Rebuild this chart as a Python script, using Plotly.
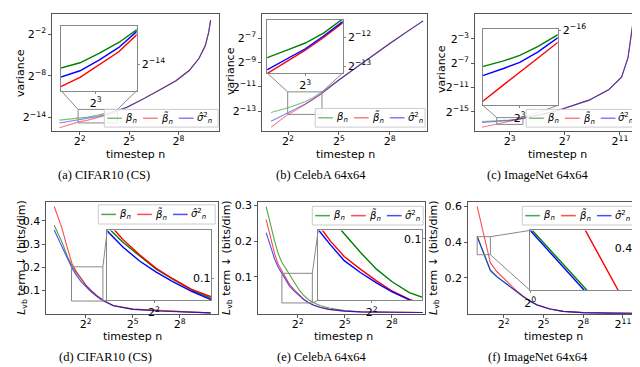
import math
import plotly.graph_objects as go

W, H = 640, 367
LOG2 = math.log10(2)

# ---------------- values ----------------
# top row: variance, stored as log2 exponents (variance = 2**e)
cifar_var_n = [1.7, 2.5, 3.7, 5.66, 8.6, 13.3, 19.7, 30, 60, 117, 232, 405, 610, 800, 920, 1000]
cifar_var_beta = [-14.4, -14.28, -14.12, -13.96, -13.68, -13.35, -12.97, -12.5, -11.3, -10.07, -8.72, -7.25, -5.52, -3.65, -1.76, 0.0]
cifar_var_beta_tilde = [-15.5, -15.1, -14.68, -14.4, -14.03, -13.63, -13.12, -12.52, -11.3, -10.07, -8.72, -7.25, -5.52, -3.65, -1.76, 0.0]
cifar_var_sigma = [-14.8, -14.6, -14.39, -14.2, -13.88, -13.5, -13.06, -12.51, -11.3, -10.07, -8.72, -7.25, -5.52, -3.65, -1.76, 0.0]

celeba_var_n = [2, 2.8, 4, 5.7, 8, 11.3, 16, 32, 64, 128, 256, 512, 1000]
celeba_var_beta = [-13.08, -12.9, -12.7, -12.45, -12.2, -11.85, -11.4, -10.42, -9.42, -8.42, -7.45, -6.5, -5.6]
celeba_var_beta_tilde = [-14.28, -13.75, -13.24, -12.85, -12.45, -12.0, -11.54, -10.43, -9.42, -8.42, -7.45, -6.5, -5.6]
celeba_var_sigma = [-13.8, -13.45, -13.11, -12.75, -12.4, -11.95, -11.5, -10.43, -9.42, -8.42, -7.45, -6.5, -5.6]

imagenet_var_n = [2, 4.2, 6, 8, 11, 15.7, 20, 84, 434, 1160, 2226, 3082, 3640, 4000]
imagenet_var_beta = [-16.62, -16.53, -16.45, -16.37, -16.24, -16.07, -15.95, -14.89, -13.1, -11.4, -9.3, -6.1, -2.2, 0.0]
imagenet_var_beta_tilde = [-17.58, -17.03, -16.8, -16.61, -16.41, -16.18, -16.0, -14.89, -13.1, -11.4, -9.3, -6.1, -2.2, 0.0]
imagenet_var_sigma = [-16.8, -16.66, -16.56, -16.47, -16.32, -16.12, -15.97, -14.89, -13.1, -11.4, -9.3, -6.1, -2.2, 0.0]

# bottom row: L_vb term (bits/dim)
cifar_lvb_n = [1, 1.4, 1.8, 2.2, 2.65, 3.3, 4.1, 5.1, 6.6, 8.6, 13.5, 32, 120, 430, 1000]
cifar_lvb_beta = [0.381, 0.31, 0.245, 0.205, 0.176, 0.147, 0.12, 0.099, 0.076, 0.058, 0.035, 0.019, 0.011, 0.006, 0.003]
cifar_lvb_beta_tilde = [0.462, 0.37, 0.28, 0.215, 0.182, 0.15, 0.122, 0.1, 0.077, 0.059, 0.035, 0.019, 0.011, 0.006, 0.003]
cifar_lvb_sigma = [0.361, 0.294, 0.237, 0.196, 0.166, 0.137, 0.114, 0.094, 0.073, 0.055, 0.034, 0.018, 0.01, 0.005, 0.003]

celeba_lvb_n = [1, 1.2, 1.45, 1.7, 2.0, 2.35, 2.8, 3.45, 4.25, 5.2, 6.5, 8.0, 11, 16, 32, 64, 256, 1000]
celeba_lvb_beta = [0.297, 0.245, 0.2, 0.165, 0.14, 0.125, 0.106, 0.084, 0.064, 0.049, 0.036, 0.028, 0.019, 0.013, 0.006, 0.0025, 0.0009, 0.0004]
celeba_lvb_beta_tilde = [0.26, 0.21, 0.165, 0.135, 0.117, 0.097, 0.079, 0.064, 0.05, 0.038, 0.028, 0.021, 0.014, 0.009, 0.004, 0.002, 0.0008, 0.0004]
celeba_lvb_sigma = [0.224, 0.185, 0.15, 0.127, 0.111, 0.0925, 0.0741, 0.06, 0.0477, 0.037, 0.0275, 0.021, 0.014, 0.009, 0.004, 0.002, 0.0008, 0.0004]

imagenet_lvb_n = [1, 2, 2.8, 4, 5.7, 8, 11, 16, 23, 45, 90, 256, 1000, 4000]
imagenet_lvb_beta = [0.434, 0.244, 0.208, 0.179, 0.146, 0.118, 0.093, 0.068, 0.048, 0.025, 0.012, 0.005, 0.002, 0.001]
imagenet_lvb_beta_tilde = [0.6, 0.283, 0.235, 0.198, 0.158, 0.125, 0.097, 0.07, 0.049, 0.025, 0.012, 0.005, 0.002, 0.001]
imagenet_lvb_sigma = [0.43, 0.238, 0.205, 0.177, 0.145, 0.118, 0.093, 0.068, 0.048, 0.025, 0.012, 0.005, 0.002, 0.001]

# zoom windows of the insets (x as log2 n, y as log2 or plain value)
cifar_var_zoom = [[1.9, 4.3], [-14.8, -12.85]]
celeba_var_zoom = [[1.98, 4.0], [-13.24, -11.4]]
imagenet_var_zoom = [[2.06, 3.97], [-17.1, -15.98]]
cifar_lvb_zoom = [[1.1, 3.1], [0.054, 0.2016]]
celeba_lvb_zoom = [[1.0, 2.94], [0.027, 0.11]]
imagenet_lvb_zoom = [[0.0, 1.0], [0.329, 0.43]]

labels = ['<i>β</i><sub><i>n</i></sub>', '<i>β\u0303</i><sub><i>n</i></sub>',
          '<i>σ\u0302</i><sup>2</sup><sub><i>n</i></sub>']
colors = [(0, 128, 0), (255, 0, 0), (0, 0, 255)]


def rgba(c, a):
    return 'rgba(%d,%d,%d,%s)' % (c[0], c[1], c[2], a)


def tick2(e):
    return '2<sup>' + str(e).replace('-', '\u2212') + '</sup>'


def P(x, y):
    return x / W, 1 - y / H


layout = dict(width=W, height=H, margin=dict(l=0, r=0, t=0, b=0), showlegend=False,
              paper_bgcolor='white', plot_bgcolor='rgba(0,0,0,0)',
              font=dict(family='DejaVu Sans', size=11, color='black'))
shapes, annotations, traces = [], [], []


def names(k):
    s = '' if k == 1 else str(k)
    return 'xaxis' + s, 'yaxis' + s, 'x' + s, 'y' + s


def add_axes(k, box, xr, yr, ylog, xt, yt, line, yside='left', ylabpos='outside', ticklen=3, standoff=0):
    xa_name, ya_name, xid, yid = names(k)
    x0, y0, x1, y1 = box
    common = dict(showgrid=False, zeroline=False, showline=True, mirror=True, linecolor=line,
                  linewidth=1, ticks='outside', ticklen=ticklen, tickcolor=line,
                  tickfont=dict(family='DejaVu Sans', size=11, color='black'))
    layout[xa_name] = dict(domain=[x0 / W, x1 / W], anchor=yid, type='log',
                           range=[xr[0] * LOG2, xr[1] * LOG2], ticklabelstandoff=standoff,
                           tickvals=[2 ** e for e in xt], ticktext=[tick2(e) for e in xt], **common)
    if ylog:
        yd = dict(type='log', range=[yr[0] * LOG2, yr[1] * LOG2],
                  tickvals=[2 ** e for e in yt], ticktext=[tick2(e) for e in yt])
    else:
        yd = dict(type='linear', range=list(yr), tickvals=yt, ticktext=['%g' % v for v in yt])
    layout[ya_name] = dict(domain=[1 - y1 / H, 1 - y0 / H], anchor=xid, side=yside,
                           ticklabelposition=ylabpos, **yd, **common)
    return xid, yid


def to_px(v, rng, p0, p1, log):
    t = v * LOG2 if log else v
    r0 = rng[0] * LOG2 if log else rng[0]
    r1 = rng[1] * LOG2 if log else rng[1]
    return p0 + (t - r0) / (r1 - r0) * (p1 - p0)


def line_shape(xa, ya, xb, yb, color='#888888', width=1):
    (u0, v0), (u1, v1) = P(xa, ya), P(xb, yb)
    shapes.append(dict(type='line', xref='paper', yref='paper', x0=u0, y0=v0, x1=u1, y1=v1,
                       line=dict(color=color, width=width), layer='above'))


def text(x, y, s, size=11, family='DejaVu Sans', angle=0, xanchor='center'):
    u, v = P(x, y)
    annotations.append(dict(xref='paper', yref='paper', x=u, y=v, text=s, showarrow=False,
                            textangle=angle, xanchor=xanchor, yanchor='middle',
                            font=dict(size=size, family=family, color='black')))


def legend(box, alpha):
    x0, y0, x1, y1 = box
    (u0, v0), (u1, v1) = P(x0, y1), P(x1, y0)
    shapes.append(dict(type='rect', xref='paper', yref='paper', x0=u0, y0=v0, x1=u1, y1=v1,
                       fillcolor='rgba(255,255,255,0.85)', line=dict(color='#cccccc', width=1),
                       layer='above'))
    yc = (y0 + y1) / 2
    for j in range(3):
        lx = x0 + 3 + j * 36.5
        line_shape(lx, yc, lx + 15, yc, rgba(colors[j], alpha), 1.5)
        text(lx + 16, yc, labels[j], size=10, xanchor='left')


panels = [
    dict(n=cifar_var_n, ys=[cifar_var_beta, cifar_var_beta_tilde, cifar_var_sigma], log=True,
         box=(39, 0.5, 209, 119), xr=(0.328, 10.48), yr=(-15.97, 0.82), xt=[2, 5, 8], yt=[-2, -8, -14],
         inset=(48, 12, 125, 78), zoom=cifar_var_zoom, ixt=[3], iyt=[-14],
         legend=(92, 97, 208, 115), alpha=0.5, ylabel='variance', ylxy=(6, 60), xlxy=(124, 143),
         caption='(a) CIFAR10 (CS)', cxy=(92, 164)),
    dict(n=celeba_var_n, ys=[celeba_var_beta, celeba_var_beta_tilde, celeba_var_sigma], log=True,
         box=(253, 0.5, 421, 119), xr=(0.48, 10.2), yr=(-14.6, -5.08), xt=[2, 5, 8], yt=[-7, -9, -11, -13],
         inset=(258, 6, 335, 60), zoom=celeba_var_zoom, ixt=[3], iyt=[-12, -13],
         legend=(307, 96, 419, 115), alpha=0.5, ylabel='variance', ylxy=(220, 58), xlxy=(338, 143),
         caption='(b) CelebA 64x64', cxy=(313, 164)),
    dict(n=imagenet_var_n, ys=[imagenet_var_beta, imagenet_var_beta_tilde, imagenet_var_sigma], log=True,
         box=(470, 0.5, 637, 119), xr=(0.505, 12.39), yr=(-18.2, 1.03), xt=[3, 7, 11], yt=[-3, -7, -11, -15],
         inset=(478, 15, 554, 93), zoom=imagenet_var_zoom, ixt=[3], iyt=[-16],
         legend=(522, 97, 635, 115), alpha=0.5, ylabel='variance', ylxy=(435, 56), xlxy=(554, 143),
         caption='(c) ImageNet 64x64', cxy=(533, 164)),
    dict(n=cifar_lvb_n, ys=[cifar_lvb_beta, cifar_lvb_beta_tilde, cifar_lvb_sigma], log=False,
         box=(33, 191, 208, 305), xr=(-0.5, 10.44), yr=(-0.002, 0.482), xt=[2, 5, 8], yt=[0.1, 0.2, 0.3, 0.4],
         inset=(95, 220, 201, 291), zoom=cifar_lvb_zoom, ixt=[2], iyt=[0.1],
         legend=(86, 194, 205, 213.5), alpha=0.7, ylxy=(8, 247), xlxy=(121, 328),
         caption='(d) CIFAR10 (CS)', cxy=(93, 349)),
    dict(n=celeba_lvb_n, ys=[celeba_lvb_beta, celeba_lvb_beta_tilde, celeba_lvb_sigma], log=False,
         box=(249, 191, 419, 305), xr=(-0.5, 10.125), yr=(-0.004, 0.31), xt=[2, 5, 8], yt=[0.1, 0.2, 0.3],
         inset=(310, 220, 416, 291), zoom=celeba_lvb_zoom, ixt=[2], iyt=[0.1],
         legend=(304, 195.5, 417, 214.5), alpha=0.7, ylxy=(217, 247), xlxy=(336, 328),
         caption='(e) CelebA 64x64', cxy=(314, 349)),
    dict(n=imagenet_lvb_n, ys=[imagenet_lvb_beta, imagenet_lvb_beta_tilde, imagenet_lvb_sigma], log=False,
         box=(463, 191, 637, 305), xr=(-0.667, 12.22), yr=(-0.003, 0.625), xt=[2, 5, 8, 11], yt=[0.2, 0.4, 0.6],
         inset=(526, 220, 631, 281), zoom=imagenet_lvb_zoom, ixt=[0, 1], iyt=[0.4],
         legend=(518, 195.5, 635, 214.5), alpha=0.7, ylxy=(428, 247), xlxy=(550, 328),
         caption='(f) ImageNet 64x64', cxy=(534, 349)),
]

for i, p in enumerate(panels):
    conv = (lambda v: [2 ** e for e in v]) if p['log'] else (lambda v: list(v))
    # main axes
    xid, yid = add_axes(i + 1, p['box'], p['xr'], p['yr'], p['log'], p['xt'], p['yt'], '#555555',
                        standoff=-3)
    for j in range(3):
        traces.append(go.Scatter(x=p['n'], y=conv(p['ys'][j]), mode='lines', xaxis=xid, yaxis=yid,
                                 line=dict(color=rgba(colors[j], 1), width=1.1), opacity=p['alpha'],
                                 hoverinfo='skip'))
    zx, zy = p['zoom']
    # zoom rectangle on the main axes
    rx = [2 ** zx[0], 2 ** zx[1], 2 ** zx[1], 2 ** zx[0], 2 ** zx[0]]
    ry = conv([zy[0], zy[0], zy[1], zy[1], zy[0]])
    traces.append(go.Scatter(x=rx, y=ry, mode='lines', xaxis=xid, yaxis=yid,
                             line=dict(color='#888888', width=1), hoverinfo='skip'))
    # inset axes
    inside = 'inside' if not p['log'] else 'outside'
    ixid, iyid = add_axes(i + 7, p['inset'], zx, zy, p['log'], p['ixt'], p['iyt'], '#888888',
                          yside='right', ylabpos=inside, ticklen=2)
    shapes.append(dict(type='rect', xref=ixid + ' domain', yref=iyid + ' domain', x0=0, x1=1, y0=0, y1=1,
                       fillcolor='white', line=dict(width=0), layer='below'))
    for j in range(3):
        traces.append(go.Scatter(x=p['n'], y=conv(p['ys'][j]), mode='lines', xaxis=ixid, yaxis=iyid,
                                 line=dict(color=rgba(colors[j], 1), width=1.4), hoverinfo='skip'))
    # connector lines between the zoom rectangle and the inset
    bx0, by0, bx1, by1 = p['box']
    rl = to_px(zx[0], p['xr'], bx0, bx1, True)
    rr = to_px(zx[1], p['xr'], bx0, bx1, True)
    rt = to_px(zy[1], p['yr'], by1, by0, p['log'])
    rb = to_px(zy[0], p['yr'], by1, by0, p['log'])
    ix0, iy0, ix1, iy1 = p['inset']
    if p['log']:
        line_shape(ix0, iy1, rl, rt)
        line_shape(ix1, iy1, rr, rt)
    else:
        line_shape(rr, rt, ix0, iy0)
        line_shape(rr, rb, ix0, iy1)
    legend(p['legend'], p['alpha'])
    ylabel = p.get('ylabel', '<i>L</i><sub>vb</sub> term \u2193 (bits/dim)')
    text(p['ylxy'][0], p['ylxy'][1], ylabel, angle=-90)
    text(p['xlxy'][0], p['xlxy'][1], 'timestep n')
    text(p['cxy'][0], p['cxy'][1], p['caption'], size=12.5, family='Liberation Serif')

layout['shapes'] = shapes
layout['annotations'] = annotations
fig = go.Figure(data=traces, layout=go.Layout(**layout))
fig.write_html('out.html')
